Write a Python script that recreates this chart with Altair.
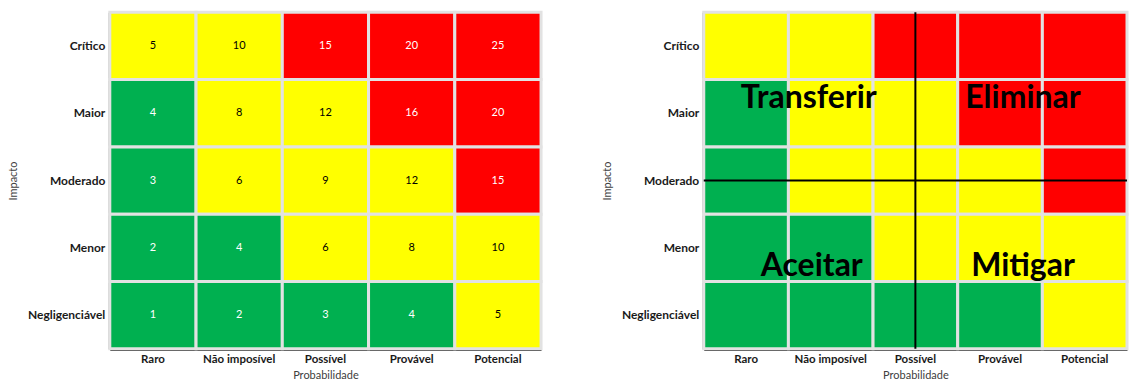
import altair as alt
import pandas as pd

prob = ["Raro", "Não imposível", "Possível", "Provável", "Potencial"]
impact = ["Crítico", "Maior", "Moderado", "Menor", "Negligenciável"]
scores = [
    [5, 10, 15, 20, 25],
    [4, 8, 12, 16, 20],
    [3, 6, 9, 12, 15],
    [2, 4, 6, 8, 10],
    [1, 2, 3, 4, 5],
]
levels = [
    ["amarelo", "amarelo", "vermelho", "vermelho", "vermelho"],
    ["verde", "amarelo", "amarelo", "vermelho", "vermelho"],
    ["verde", "amarelo", "amarelo", "amarelo", "vermelho"],
    ["verde", "verde", "amarelo", "amarelo", "amarelo"],
    ["verde", "verde", "verde", "verde", "amarelo"],
]
level_names = ["verde", "amarelo", "vermelho"]
level_colors = ["#00B050", "#FFFF00", "#FF0000"]
text_colors = ["#FFFFFF", "#000000", "#FFFFFF"]

strategy_labels = ["Transferir", "Eliminar", "Aceitar", "Mitigar"]
strategy_prob = ["Não imposível", "Provável", "Não imposível", "Provável"]
strategy_impact = ["Maior", "Maior", "Menor", "Menor"]
strategy_dx = [-22, 23, -19, 23]
strategy_dy = [-15, -15, 18, 18]

divider_prob = ["Possível"]
divider_impact = ["Moderado"]

rows = []
for i, imp in enumerate(impact):
    for j, p in enumerate(prob):
        rows.append({"Impacto": imp, "Probabilidade": p,
                     "score": scores[i][j], "nivel": levels[i][j]})
cells = pd.DataFrame(rows)

FONT = "Lato"
W, H = 432, 337

xenc = alt.X("Probabilidade:N", sort=prob, title="Probabilidade",
             scale=alt.Scale(paddingInner=0, paddingOuter=0),
             axis=alt.Axis(labelAngle=0, labelFontSize=11.5))
yenc = alt.Y("Impacto:N", sort=impact, title="Impacto",
             scale=alt.Scale(paddingInner=0, paddingOuter=0),
             axis=alt.Axis(labelFontSize=12))

fill_enc = alt.Fill("nivel:N", scale=alt.Scale(domain=level_names, range=level_colors), legend=None)

rect = alt.Chart(cells).mark_rect(stroke="#E2E2E2", strokeWidth=3).encode(
    x=xenc, y=yenc, fill=fill_enc)

nums = alt.Chart(cells).mark_text(font=FONT, fontSize=11).encode(
    x=alt.X("Probabilidade:N", sort=prob),
    y=alt.Y("Impacto:N", sort=impact),
    text="score:Q",
    color=alt.Color("nivel:N", scale=alt.Scale(domain=level_names, range=text_colors), legend=None),
)

left = alt.layer(rect, nums).properties(width=W, height=H)

rect2 = alt.Chart(cells).mark_rect(stroke="#E2E2E2", strokeWidth=3).encode(
    x=xenc, y=yenc, fill=fill_enc)

vrule = alt.Chart(pd.DataFrame({"Probabilidade": divider_prob})).mark_rule(
    color="black", strokeWidth=2).encode(x=alt.X("Probabilidade:N", sort=prob))
hrule = alt.Chart(pd.DataFrame({"Impacto": divider_impact})).mark_rule(
    color="black", strokeWidth=2).encode(y=alt.Y("Impacto:N", sort=impact))

strat = pd.DataFrame({"label": strategy_labels, "Probabilidade": strategy_prob,
                      "Impacto": strategy_impact})
texts = []
for k in range(len(strategy_labels)):
    texts.append(
        alt.Chart(strat.iloc[[k]]).mark_text(
            font=FONT, fontSize=32, fontWeight="bold", color="black",
            dx=strategy_dx[k], dy=strategy_dy[k]).encode(
            x=alt.X("Probabilidade:N", sort=prob),
            y=alt.Y("Impacto:N", sort=impact),
            text="label:N")
    )

right = alt.layer(rect2, vrule, hrule, *texts).properties(width=424, height=H)

chart = alt.hconcat(left, right, spacing=58).resolve_scale(fill="shared").properties(
    padding={"left": 7, "top": 10, "right": 0, "bottom": 5}
).configure_view(stroke=None).configure_axis(
    domainColor="black", domainWidth=3, ticks=False, grid=False,
    labelFont=FONT, labelFontWeight="bold", labelColor="#1a1a1a",
    labelPadding=5, titleFont=FONT, titleFontWeight="normal", titleFontSize=11,
    titleColor="#404040", zindex=1,
).configure_axisX(titlePadding=4).configure_axisY(titlePadding=9)

chart.save("out.html", embed_options={"renderer": "svg", "actions": False})
